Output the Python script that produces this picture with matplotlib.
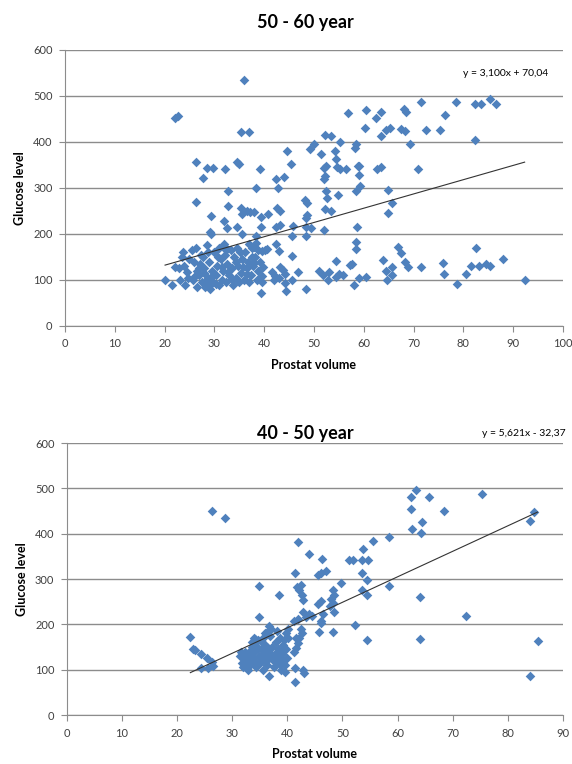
import numpy as np
import matplotlib
matplotlib.use('Agg')
import matplotlib.pyplot as plt

plt.rcParams['font.family'] = ['Lato', 'DejaVu Sans']

# 50 - 60 year group
top_volume = [
    22.1, 22.6, 35.9, 35.4, 36.9, 26.3, 27.7, 28.6, 29.8, 32.1, 32.7, 34.5, 34.9, 38.3, 39.1, 42.3,
    42.8, 43.9, 44.6, 45.3, 48.2, 49.3, 50.0, 51.5, 52.2, 53.4, 52.0, 52.4, 52.1, 52.3, 52.4, 55.3,
    54.2, 54.5, 54.6, 55.3, 56.4, 54.9, 56.9, 58.2, 58.4, 58.8, 59.1, 59.0, 59.3, 58.4, 60.4, 60.2,
    62.4, 63.4, 63.5, 62.6, 63.4, 64.8, 64.4, 65.3, 67.5, 68.2, 68.0, 68.5, 69.3, 70.8, 71.5, 72.5,
    75.4, 76.4, 78.5, 82.3, 83.6, 82.3, 85.4, 86.5,
    26.3, 29.4, 29.2, 29.4, 31.9, 32.5, 32.8, 35.3, 35.6, 36.5, 37.2, 38.0, 34.5, 35.6, 38.3, 39.3,
    40.7, 39.4, 42.6, 43.1, 42.3, 43.2, 45.8, 45.6, 48.5, 48.7, 48.4, 48.4, 49.4, 48.4, 52.6, 52.2,
    53.4, 52.1, 58.6, 58.4, 58.4, 64.8, 65.7, 66.8, 67.5, 68.2, 68.9, 71.5, 75.9, 76.1, 78.7, 80.5,
    81.6, 82.6, 83.1, 84.5, 85.4, 88.0, 92.3, 63.9, 64.5, 64.6, 65.7, 65.7, 60.4, 59.1, 58.1, 57.3,
    57.7, 54.4, 53.1, 55.1, 55.8, 54.4, 52.8, 51.1, 51.8, 48.3, 45.5, 45.6, 46.7, 44.2, 44.4, 43.1,
    43.7, 44.2, 42.3, 42.9, 42.2, 42.9, 42.0, 41.6, 39.3, 39.6, 40.1, 40.5, 38.8, 39.6, 38.3, 38.0,
    20.1, 21.5, 22.0, 22.8, 23.0, 23.4, 23.7, 24.0, 24.2, 24.5, 25.0, 25.5, 26.0, 26.3, 26.5, 26.6,
    27.0, 27.2, 27.5, 27.8, 28.0, 28.2, 28.5, 28.7, 29.0, 29.2, 29.5, 29.8, 30.0, 30.3, 30.6, 31.0,
    31.3, 31.5, 31.8, 32.0, 32.3, 32.6, 33.0, 33.3, 33.5, 33.8, 34.0, 34.3, 34.6, 34.8, 35.0, 35.3,
    35.6, 36.0, 36.2, 36.5, 36.8, 37.0, 37.3, 37.6, 37.8, 38.2, 38.5, 38.8, 39.2, 39.5, 27.3, 28.8,
    30.8, 25.8, 26.9, 27.9, 29.6, 30.4, 31.6, 32.8, 34.4, 35.8, 36.6, 37.5, 29.0, 28.4, 26.2, 33.6,
    35.2, 38.0, 24.8, 30.9, 32.2, 36.9, 39.8, 31.9, 32.5,
]
top_glucose = [
    452, 456, 534, 421, 421, 357, 322, 344, 344, 341, 293, 357, 353, 301, 341, 320,
    301, 323, 380, 353, 274, 385, 396, 374, 416, 413, 344, 348, 319, 326, 293, 399,
    381, 362, 346, 342, 342, 285, 464, 386, 395, 348, 348, 328, 304, 293, 470, 430,
    452, 466, 413, 341, 346, 296, 426, 431, 428, 423, 472, 466, 396, 342, 486, 426,
    426, 459, 487, 482, 482, 404, 493, 482,
    269, 240, 205, 201, 229, 212, 261, 256, 243, 250, 247, 247, 216, 201, 196, 236,
    243, 216, 256, 249, 216, 220, 218, 196, 267, 241, 234, 216, 212, 196, 279, 254,
    249, 209, 216, 182, 167, 245, 267, 171, 158, 140, 129, 129, 138, 112, 91, 112,
    130, 170, 130, 135, 130, 145, 101, 143, 120, 100, 128, 111, 107, 104, 89, 133,
    135, 142, 117, 114, 111, 107, 100, 120, 111, 80, 152, 101, 118, 94, 75, 129,
    122, 112, 178, 162, 109, 104, 101, 118, 72, 109, 165, 167, 165, 163, 181, 172,
    99, 90, 128, 125, 100, 150, 160, 130, 90, 118, 145, 165, 140, 170, 120, 85,
    110, 135, 95, 150, 125, 85, 175, 105, 140, 80, 120, 95, 160, 110, 130, 90,
    145, 100, 120, 170, 95, 135, 110, 165, 125, 90, 150, 105, 170, 130, 95, 115,
    145, 100, 160, 125, 140, 95, 110, 170, 130, 150, 100, 120, 140, 95, 155, 160,
    150, 100, 125, 115, 108, 92, 128, 118, 140, 128, 112, 150, 88, 97, 108, 102,
    160, 138, 104, 170, 155, 178, 128, 178, 167,
]

# 40 - 50 year group
bottom_volume = [
    26.4, 28.6, 62.5, 63.3, 62.5, 65.8, 62.7, 64.5, 64.3, 68.4, 75.4, 84.7, 84.1, 41.9, 44.0, 46.3,
    41.4, 45.5, 46.2, 47.0, 51.2, 52.0, 53.7, 53.5, 54.6, 55.5, 58.5, 53.5,
    34.9, 38.5, 41.7, 42.2, 42.5, 42.7, 42.9, 48.2, 48.5, 48.0, 49.8, 53.5, 54.5, 54.5, 58.5, 64.1,
    34.9, 36.7, 41.2, 41.9, 42.9, 42.5, 42.2, 42.7, 44.0, 43.3, 44.5, 45.5, 46.2, 46.5, 46.2, 45.7,
    46.2, 48.2, 47.8, 48.5, 48.3, 52.3, 54.5, 64.1, 72.4, 84.0, 85.4, 22.4, 22.8, 23.2, 24.3, 24.3,
    25.5, 25.6, 26.4, 26.6, 36.7, 41.4, 41.4, 42.9, 43.0, 36.1, 35.6, 34.1, 34.2, 41.2, 41.5, 42.0,
    41.6, 40.2, 40.2,
    31.5, 31.8, 32.0, 32.3, 32.6, 32.8, 33.0, 33.3, 33.5, 33.8, 34.0, 34.3, 34.6, 34.8, 35.0, 35.2,
    35.5, 35.7, 36.0, 36.2, 36.4, 36.7, 36.9, 37.1, 37.3, 37.5, 37.7, 37.9, 38.1, 38.3, 38.5, 38.7,
    38.9, 39.1, 39.3, 39.5, 39.7, 39.9, 39.6, 38.8, 37.8, 36.5, 35.3, 34.4, 33.2, 32.1, 39.4, 38.2,
    37.0, 36.0, 35.4, 39.8, 34.0, 33.6, 31.6, 32.4, 33.9, 35.9, 37.4, 38.6, 39.2, 36.3, 34.7, 33.1,
]
bottom_glucose = [
    451, 434, 481, 497, 454, 481, 410, 425, 401, 450, 487, 448, 427, 382, 355, 345,
    314, 310, 314, 318, 343, 343, 366, 343, 341, 383, 392, 313,
    285, 265, 283, 276, 287, 265, 253, 276, 265, 257, 292, 276, 298, 265, 285, 261,
    216, 197, 208, 212, 227, 189, 170, 182, 223, 216, 219, 246, 252, 223, 208, 183,
    204, 247, 240, 227, 183, 199, 165, 167, 218, 87, 164, 173, 146, 143, 134, 104,
    125, 103, 118, 109, 87, 103, 72, 99, 93, 182, 170, 167, 159, 140, 148, 159,
    170, 189, 170,
    130, 115, 105, 140, 120, 100, 130, 110, 150, 125, 140, 105, 165, 130, 115, 145,
    100, 135, 155, 120, 110, 140, 175, 125, 150, 105, 135, 160, 115, 145, 125, 170,
    100, 135, 155, 110, 180, 125, 95, 140, 120, 130, 125, 118, 120, 125, 165, 185,
    190, 180, 160, 145, 170, 160, 138, 112, 118, 142, 122, 112, 120, 150, 148, 140,
]

# trendline coefficients as printed on the chart
top_slope, top_icept = 3.100, 70.04
bottom_slope, bottom_icept = 5.621, -32.37

blue = '#4F81BD'
grid_c = '#8C8C8C'
txt_c = '#404040'


def style_axes(ax, xmax):
    ax.set_xlim(0, xmax)
    ax.set_ylim(0, 600)
    ax.set_xticks(np.arange(0, xmax + 1, 10))
    ax.set_yticks(np.arange(0, 601, 100))
    ax.yaxis.grid(True, color=grid_c, lw=1)
    ax.set_axisbelow(True)
    for s in ['top', 'right']:
        ax.spines[s].set_visible(False)
    for s in ['left', 'bottom']:
        ax.spines[s].set_color(grid_c)
    ax.tick_params(direction='out', length=4, color=grid_c, labelsize=8, labelcolor=txt_c, pad=5)
    ax.set_xlabel('Prostat volume', fontsize=9, fontweight='bold', labelpad=7)
    ax.set_ylabel('Glucose level', fontsize=9, fontweight='bold', labelpad=5)


fig = plt.figure(figsize=(5.72, 7.64), dpi=100)

ax1 = fig.add_axes([0.1136, 0.5733, 0.8706, 0.3613])
ax1.scatter(top_volume, top_glucose, marker='D', s=24, color=blue, lw=0, zorder=3)
xs = np.array([min(top_volume), max(top_volume)])
ax1.plot(xs, top_slope * xs + top_icept, color='#333333', lw=0.8, zorder=4)
style_axes(ax1, 100)
fig.text(0.533, 0.971, '50 - 60 year', ha='center', va='center', fontsize=13, fontweight='bold')
ax1.text(0.97, 0.915, 'y = 3,100x + 70,04', transform=ax1.transAxes, ha='right', va='center', fontsize=7.5)

ax2 = fig.add_axes([0.117, 0.0641, 0.867, 0.356])
ax2.scatter(bottom_volume, bottom_glucose, marker='D', s=24, color=blue, lw=0, zorder=3)
xs = np.array([min(bottom_volume), max(bottom_volume)])
ax2.plot(xs, bottom_slope * xs + bottom_icept, color='#333333', lw=0.8, zorder=4)
style_axes(ax2, 90)
fig.text(0.533, 0.433, '40 - 50 year', ha='center', va='center', fontsize=13, fontweight='bold')
fig.text(0.988, 0.433, 'y = 5,621x - 32,37', ha='right', va='center', fontsize=7.5)

fig.savefig('out.png', dpi=100)
